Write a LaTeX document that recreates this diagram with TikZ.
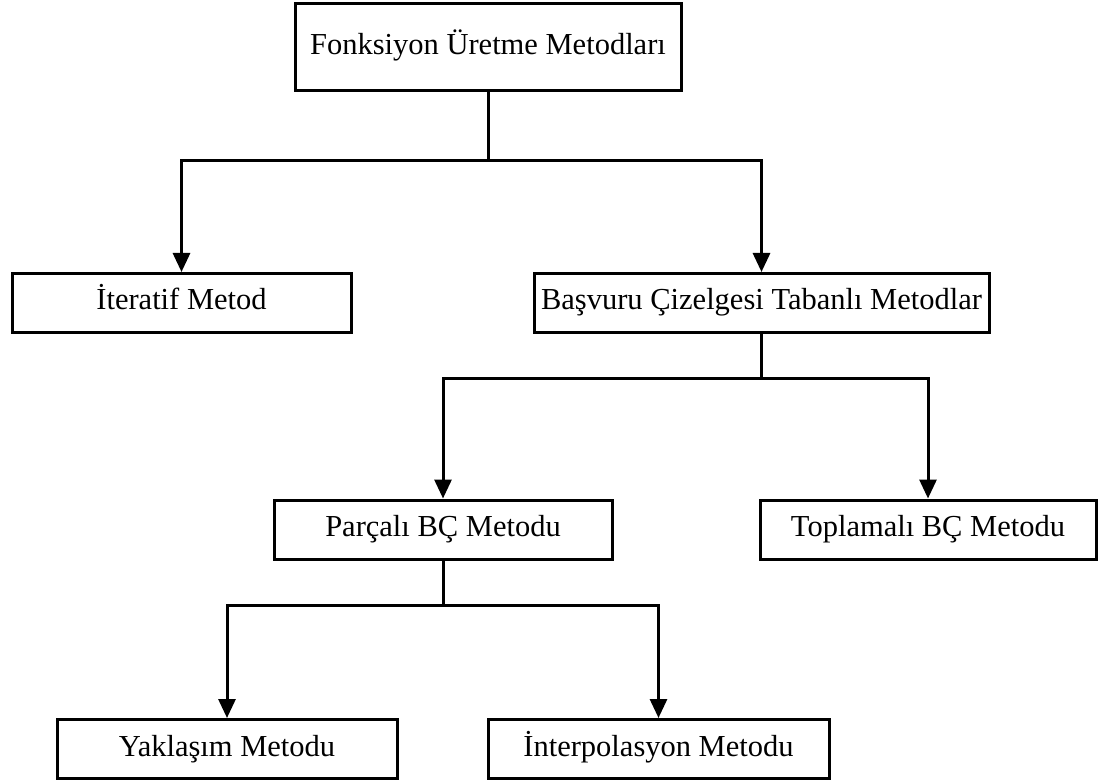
\documentclass[tikz,border=0pt]{standalone}
\usepackage{fontspec}
\setmainfont{Liberation Serif}
\usetikzlibrary{arrows.meta}
\begin{document}
\begin{tikzpicture}[x=1pt,y=-1pt,
  box/.style={draw=black, line width=3pt, fill=white, inner sep=0pt, minimum height=59pt,
    text height=20pt, text depth=6pt,
    font=\fontsize{30.5}{36}\selectfont},
  conn/.style={line width=3pt, line cap=rect},
  arr/.style={conn, -{Triangle[length=19pt,width=17pt]}}]
\useasboundingbox (0,0) rectangle (1105,783);
\node[box, minimum width=386pt, minimum height=87pt] (top) at (488,47.5) {Fonksiyon Üretme Metodları};
\node[box, minimum width=339pt] (it) at (181.5,303) {İteratif Metod};
\node[box, minimum width=455pt] (bas) at (761.5,303) {Başvuru Çizelgesi Tabanlı Metodlar};
\node[box, minimum width=338pt] (par) at (443,529.5) {Parçalı BÇ Metodu};
\node[box, minimum width=336pt] (top2) at (928,529.5) {Toplamalı BÇ Metodu};
\node[box, minimum width=340pt] (yak) at (227,749) {Yaklaşım Metodu};
\node[box, minimum width=341pt] (int) at (658.5,749) {İnterpolasyon Metodu};
\coordinate (j1) at (488,161);
\coordinate (j2) at (761.5,378);
\coordinate (j3) at (443,605);
\draw[conn] (top.south) -- (j1);
\draw[arr] (j1) -| (it.north);
\draw[arr] (j1) -| (bas.north);
\draw[conn] (bas.south) -- (j2);
\draw[arr] (j2) -| (par.north);
\draw[arr] (j2) -| (top2.north);
\draw[conn] (par.south) -- (j3);
\draw[arr] (j3) -| (yak.north);
\draw[arr] (j3) -| (int.north);
\end{tikzpicture}
\end{document}
